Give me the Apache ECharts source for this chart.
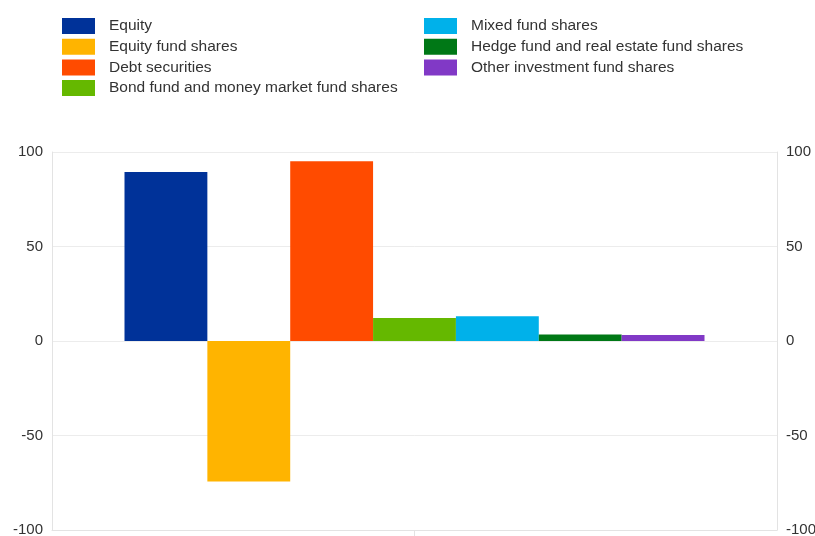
<!DOCTYPE html>
<html><head><meta charset="utf-8">
<script src="https://cdn.jsdelivr.net/npm/echarts@6/dist/echarts.min.js"></script>
<style>html,body{margin:0;padding:0;background:#fff}#c{width:815px;height:536px}</style>
</head><body><div id="c"></div>
<script>
const categories = [''];
const seriesNames = ['Equity','Equity fund shares','Debt securities','Bond fund and money market fund shares','Mixed fund shares','Hedge fund and real estate fund shares','Other investment fund shares'];
const seriesValues = [89.4, -74.3, 95.1, 12.2, 13.1, 3.4, 3.2];
const seriesColors = ['#003299','#FFB400','#FF4B00','#65B800','#00B1EA','#007816','#8139C6'];
const yTicks = {min:-100, max:100, interval:50};

const font = 'Liberation Sans, Arial, Helvetica, sans-serif';
const chart = echarts.init(document.getElementById('c'), null, {renderer:'canvas'});
const legendCommon = {orient:'vertical', itemWidth:33, itemHeight:16, itemGap:4.7, icon:'rect',
  textStyle:{fontFamily:font, fontSize:15.5, color:'#333', padding:[0,0,0,9]}, selectedMode:false, padding:0};
const labelStyle = {fontFamily:font, fontSize:15, color:'#333', margin:9};
const yAxisCommon = {type:'value', min:yTicks.min, max:yTicks.max, interval:yTicks.interval,
  axisLine:{show:true, lineStyle:{color:'#e3e3e3'}}, axisTick:{show:false},
  splitLine:{show:true, lineStyle:{color:'#ececec'}}};
chart.setOption({
  animation:false,
  legend:[
    Object.assign({left:62, top:18, data:seriesNames.slice(0,4)}, legendCommon),
    Object.assign({left:424, top:18, data:seriesNames.slice(4)}, legendCommon)
  ],
  grid:{left:52, right:38, top:152, bottom:6, containLabel:false, outerBoundsMode:'none'},
  xAxis:{type:'category', data:categories, axisLine:{show:true, onZero:false, lineStyle:{color:'#e3e3e3'}},
    axisTick:{show:true, alignWithLabel:true, length:6, lineStyle:{color:'#e3e3e3'}}, axisLabel:{show:false}},
  yAxis:[Object.assign({position:'left', axisLabel:labelStyle}, yAxisCommon),
         Object.assign({position:'right', axisLabel:labelStyle}, yAxisCommon)],
  series: seriesNames.map((n,i)=>({name:n, type:'bar', data:[seriesValues[i]], barGap:'0%', barCategoryGap:'20%',
    itemStyle:{color:seriesColors[i]}, yAxisIndex:0}))
});
</script></body></html>
